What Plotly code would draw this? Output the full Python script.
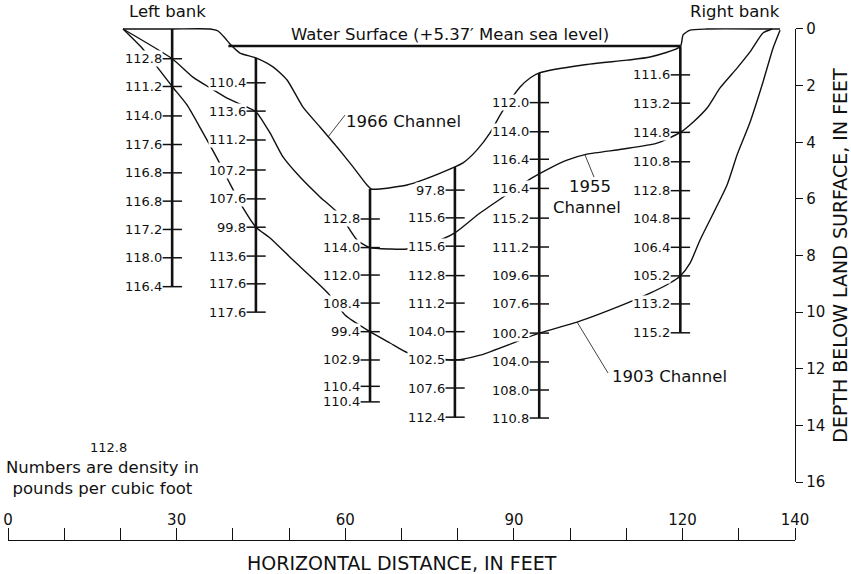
import plotly.graph_objects as go

# ---- Core holes: horizontal position (ft) and sampled depth span (ft below land surface)
core_x = [29.2, 44.1, 64.4, 79.5, 94.5, 119.6]
core_top = [0.0, 1.02, 5.65, 4.87, 1.55, 0.62]
core_bottom = [9.1, 10.0, 13.17, 13.71, 13.74, 10.73]

# ---- Sample depths (ft) and bulk density (lb per cubic ft) along each core
core1_depth = [1.05, 2.03, 3.07, 4.08, 5.08, 6.08, 7.08, 8.08, 9.1]
core1_density = [112.8, 111.2, 114.0, 117.6, 116.8, 116.8, 117.2, 118.0, 116.4]

core2_depth = [1.9, 2.9, 3.92, 4.98, 6.0, 7.0, 8.02, 9.0, 10.0]
core2_density = [110.4, 113.6, 111.2, 107.2, 107.6, 99.8, 113.6, 117.6, 117.6]

core3_depth = [6.71, 7.72, 8.69, 9.68, 10.69, 11.69, 12.62, 13.17]
core3_density = [112.8, 114.0, 112.0, 108.4, 99.4, 102.9, 110.4, 110.4]

core4_depth = [5.69, 6.67, 7.67, 8.71, 9.68, 10.69, 11.69, 12.68, 13.71]
core4_density = [97.8, 115.6, 115.6, 112.8, 111.2, 104.0, 102.5, 107.6, 112.4]

core5_depth = [2.6, 3.63, 4.6, 5.63, 6.68, 7.7, 8.72, 9.71, 10.74, 11.76, 12.75, 13.74]
core5_density = [112.0, 114.0, 116.4, 116.4, 115.2, 111.2, 109.6, 107.6, 100.2, 104.0, 108.0, 110.8]

core6_depth = [1.62, 2.62, 3.65, 4.69, 5.71, 6.69, 7.71, 8.72, 9.71, 10.73]
core6_density = [111.6, 113.2, 114.8, 110.8, 112.8, 104.8, 106.4, 105.2, 113.2, 115.2]

# ---- Channel cross sections (distance ft, depth ft)
ch1966_x = [20.46, 29.18, 35.94, 37.36, 38.61, 39.5, 41.27, 44.1, 47.14, 49.64, 52.48, 55.5,
            58.53, 61.38, 63.87, 64.6, 66.18, 70.98, 73.83, 79.5, 80.95, 83.44, 85.75, 87.88,
            91.09, 92.87, 94.5, 102.29, 110.12, 114.21, 119.6, 120.09, 121.33, 124.36, 135.03, 137.34]
ch1966_depth = [0, 0, 0, 0.07, 0.32, 0.53, 0.85, 1.02, 1.34, 1.8, 2.76, 3.46,
                4.17, 4.87, 5.51, 5.65, 5.65, 5.51, 5.33, 4.87, 4.73, 4.27, 3.67, 2.93,
                2.05, 1.73, 1.55, 1.27, 1.1, 0.99, 0.62, 0.21, 0.04, 0, 0, 0]

ch1955_x = [20.46, 29.2, 32.91, 35.94, 38.96, 42.52, 44.1, 46.61, 48.92, 51.95, 55.5, 59.06,
            62.09, 64.4, 67.96, 70.98, 77.21, 79.5, 83.97, 93.22, 96.42, 99.45, 103.0, 109.41,
            115.46, 119.6, 121.86, 124.36, 126.67, 129.69, 132.0, 134.31, 135.92]
ch1955_depth = [0, 1.05, 1.7, 2.08, 2.44, 2.76, 2.92, 3.67, 4.52, 5.23, 5.93, 6.57,
                7.45, 7.72, 7.77, 7.77, 7.42, 7.2, 6.5, 5.26, 4.91, 4.63, 4.42, 4.24,
                4.03, 3.65, 3.29, 2.79, 2.08, 1.38, 0.81, 0.14, 0]

ch1903_x = [20.46, 23.84, 26.69, 29.2, 31.84, 34.69, 37.36, 39.5, 41.81, 44.1, 46.61, 50.7,
            56.93, 59.95, 64.4, 67.96, 71.16, 79.5, 83.97, 94.5, 101.23, 110.12, 114.21, 117.77,
            119.6, 121.33, 123.11, 127.91, 129.69, 132.0, 134.31, 136.1, 137.34]
ch1903_depth = [0, 0.67, 1.38, 2.03, 2.68, 3.67, 4.63, 5.47, 6.32, 7.0, 7.38, 8.16,
                9.33, 10.1, 10.69, 11.09, 11.44, 11.69, 11.52, 10.74, 10.35, 9.68, 9.33, 8.97,
                8.72, 8.27, 7.45, 5.51, 4.45, 3.29, 1.87, 0.67, 0.04]

# Water surface (+5.37 ft mean sea level)
water_x = [39.2, 119.6]
water_depth = [0.6, 0.6]

# Leader lines from channel names to their profiles
lead1966_x, lead1966_depth = [59.95, 56.93], [3.04, 3.81]
lead1955_x, lead1955_depth = [102.65, 104.25], [4.45, 5.23]
lead1903_x, lead1903_depth = [101.23, 106.74], [10.35, 12.15]

# Axis ticks
dist_ticks = list(range(0, 141, 10))
dist_labels = {0: "0", 30: "30", 60: "60", 90: "90", 120: "120", 140: "140"}
depth_ticks = list(range(0, 17, 2))

FONT = "DejaVu Sans"
INK = "#111111"

cores = [
    (core1_depth, core1_density), (core2_depth, core2_density), (core3_depth, core3_density),
    (core4_depth, core4_density), (core5_depth, core5_density), (core6_depth, core6_density),
]

fig = go.Figure()

# Channel profiles
for xs, ds in [(ch1966_x, ch1966_depth), (ch1955_x, ch1955_depth), (ch1903_x, ch1903_depth)]:
    fig.add_trace(go.Scatter(x=xs, y=ds, mode="lines",
                             line=dict(color=INK, width=1.4, shape="spline", smoothing=0.6),
                             hoverinfo="skip", showlegend=False))

# Leader lines
for xs, ds in [(lead1966_x, lead1966_depth), (lead1955_x, lead1955_depth), (lead1903_x, lead1903_depth)]:
    fig.add_trace(go.Scatter(x=xs, y=ds, mode="lines", line=dict(color=INK, width=0.8),
                             hoverinfo="skip", showlegend=False))

# Water surface
fig.add_trace(go.Scatter(x=water_x, y=water_depth, mode="lines",
                         line=dict(color=INK, width=2.4), hoverinfo="skip", showlegend=False))

# Core holes as vertical bars
cx, cy = [], []
for x, t, b in zip(core_x, core_top, core_bottom):
    cx += [x, x, None]
    cy += [t, b, None]
fig.add_trace(go.Scatter(x=cx, y=cy, mode="lines", line=dict(color=INK, width=2.6),
                         hoverinfo="skip", showlegend=False))

# Sample ticks on each core
tx, ty = [], []
for x, (depths, _) in zip(core_x, cores):
    tx += [x] * len(depths)
    ty += depths
fig.add_trace(go.Scatter(x=tx, y=ty, mode="markers",
                         marker=dict(symbol="line-ew", size=14, line=dict(color=INK, width=1.5)),
                         hoverinfo="skip", showlegend=False))

# Invisible trace to attach the depth scale
fig.add_trace(go.Scatter(x=[None], y=[None], yaxis="y2", showlegend=False, hoverinfo="skip"))

annotations = []
# Density values beside each tick
for x, (depths, dens) in zip(core_x, cores):
    for d, v in zip(depths, dens):
        annotations.append(dict(x=x, y=d, xref="x", yref="y", text=f"{v:.1f}", showarrow=False,
                                xanchor="right", yanchor="middle", xshift=-9,
                                font=dict(family=FONT, size=13, color=INK),
                                bgcolor="white", borderpad=0))

def note(x, y, text, size=16.5, xanchor="center", ref="data"):
    xr, yr = ("x", "y") if ref == "data" else ("paper", "paper")
    annotations.append(dict(x=x, y=y, xref=xr, yref=yr, text=text, showarrow=False,
                            xanchor=xanchor, yanchor="middle",
                            font=dict(family=FONT, size=size, color=INK)))

note(0.2033, 1.0154, "Left bank", ref="paper")
note(0.9238, 1.0154, "Right bank", ref="paper")
note(78.55, 0.18, "Water Surface (+5.37′ Mean sea level)")
note(59.8, 3.27, "1966 Channel", xanchor="left")
note(103.54, 5.58, "1955")
note(103.0, 6.29, "Channel")
note(107.1, 12.29, "1903 Channel", xanchor="left")
note(17.79, 14.77, "112.8", size=13)
note(0.1195, 0.1192, "Numbers are density in<br>pounds per cubic foot", ref="paper")
note(0.5, -0.044, "HORIZONTAL DISTANCE, IN FEET", size=19, ref="paper")

fig.update_layout(
    width=851, height=574,
    margin=dict(l=8, r=56, t=20, b=34, autoexpand=False),
    paper_bgcolor="white", plot_bgcolor="rgba(0,0,0,0)",
    font=dict(family=FONT, color=INK),
    annotations=annotations,
    xaxis=dict(
        range=[0, 140], domain=[0, 1], anchor="free", position=0, side="top", automargin=False,
        showgrid=False, zeroline=False, showline=True, linecolor=INK, linewidth=1.3,
        ticks="outside", ticklen=12, tickwidth=1.3, tickcolor=INK,
        tickvals=dist_ticks, ticktext=[dist_labels.get(v, "") for v in dist_ticks],
        tickfont=dict(family=FONT, size=15, color=INK), ticklabelstandoff=-3,
    ),
    yaxis=dict(
        range=[16, -0.318], domain=[0.1115, 1], visible=False, showgrid=False, zeroline=False,
        automargin=False,
    ),
    yaxis2=dict(
        range=[16, 0], domain=[0.1115, 0.9827], anchor="x", side="right", automargin=False,
        showgrid=False, zeroline=False, showline=True, linecolor=INK, linewidth=1.3,
        ticks="outside", ticklen=7, tickwidth=1.3, tickcolor=INK,
        tickvals=depth_ticks, ticktext=[str(v) for v in depth_ticks],
        tickfont=dict(family=FONT, size=15, color=INK),
        title=dict(text="DEPTH BELOW LAND SURFACE, IN FEET", font=dict(family=FONT, size=19, color=INK),
                   standoff=11),
    ),
)

fig.write_html("out.html")
